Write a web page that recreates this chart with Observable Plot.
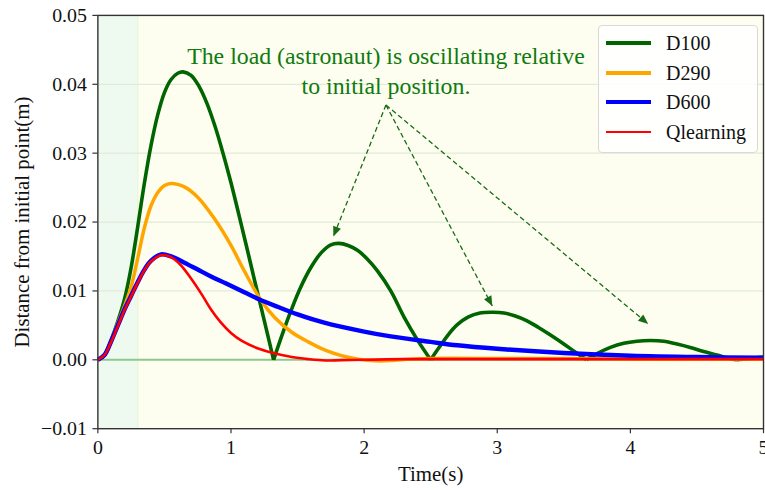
<!DOCTYPE html>
<html>
<head>
<meta charset="utf-8">
<script src="https://cdn.jsdelivr.net/npm/d3@7"></script>
<script src="https://cdn.jsdelivr.net/npm/@observablehq/plot@0.6"></script>
<style>
  html, body { margin: 0; padding: 0; overflow: hidden; background: #ffffff; }
  #wrap { position: relative; width: 765px; height: 490px; overflow: hidden; }
  #legend {
    position: absolute; left: 598px; top: 25px; width: 158px; height: 126px;
    background: rgba(255,255,255,0.85); border: 1px solid #d9d9d9; border-radius: 4px;
    font-family: 'Liberation Serif', 'DejaVu Serif', serif; font-size: 20px; color: #111;
  }
  .row { position: absolute; left: 0; height: 24px; width: 100%; }
  .swatch { position: absolute; left: 7px; width: 45px; top: 50%; }
  .name { position: absolute; left: 67px; top: 50%; transform: translateY(-52%); line-height: 1; }
</style>
</head>
<body>
<div id="wrap"></div>
<script>
// Displacement of the load from its initial point, sampled as [time (s), distance (m)]
const seriesNames = ["D100", "D290", "D600", "Qlearning"];
const seriesColors = ["#006400", "#ffa500", "#0000ff", "#ff0000"];
const seriesWidths = [3.6, 3.5, 4.5, 2.6];

const d100 = [
  [0, 0], [0.05, 0.0007], [0.1, 0.0029], [0.15, 0.0056], [0.2, 0.0088], [0.25, 0.0134],
  [0.3, 0.0194], [0.35, 0.0257], [0.4, 0.0312], [0.45, 0.0356], [0.5, 0.0388], [0.55, 0.0407],
  [0.6, 0.0416], [0.64, 0.0418], [0.7, 0.0413], [0.76, 0.0397], [0.82, 0.0372], [0.88, 0.0339],
  [0.94, 0.0300], [1.0, 0.0257], [1.06, 0.0210], [1.12, 0.0162], [1.18, 0.0113], [1.25, 0.0057],
  [1.32, 0],
  [1.38, 0.0034], [1.45, 0.0071], [1.52, 0.0104], [1.6, 0.0134], [1.68, 0.0156], [1.75, 0.0167],
  [1.81, 0.0169], [1.88, 0.0166], [1.95, 0.0159], [2.02, 0.0147], [2.1, 0.0129], [2.2, 0.0100],
  [2.3, 0.0062], [2.4, 0.0029], [2.5, 0],
  [2.56, 0.0017], [2.63, 0.0036], [2.7, 0.0051], [2.78, 0.0062], [2.87, 0.0068], [2.97, 0.0069],
  [3.05, 0.0068], [3.13, 0.0064], [3.22, 0.0057], [3.31, 0.0047], [3.4, 0.0036], [3.5, 0.0023],
  [3.58, 0.0012], [3.67, 0],
  [3.75, 0.0009], [3.85, 0.0018], [3.95, 0.0024], [4.05, 0.0027], [4.15, 0.0028], [4.25, 0.0027],
  [4.35, 0.0023], [4.45, 0.0018], [4.55, 0.0012], [4.65, 0.0007], [4.74, 0.0002], [4.8, 0],
  [4.9, 0.0002], [5.0, 0.0004]
];

const d290 = [
  [0, 0], [0.05, 0.0007], [0.1, 0.0028], [0.15, 0.0053], [0.2, 0.0078], [0.25, 0.0106],
  [0.3, 0.0148], [0.35, 0.0192], [0.4, 0.0224], [0.45, 0.0243], [0.5, 0.0253], [0.55, 0.0256],
  [0.65, 0.0251], [0.75, 0.0236], [0.875, 0.0205], [1.0, 0.0166], [1.1, 0.0129], [1.22, 0.0088],
  [1.33, 0.0061], [1.457, 0.0040], [1.58, 0.0026], [1.707, 0.0014], [1.83, 0.0006],
  [1.955, 0.0001], [2.08, -0.00015], [2.2, -0.00012], [2.35, 0.0001], [2.5, 0.0002],
  [3.0, 0.0002], [3.5, 0.0002], [4.0, 0.0001], [4.5, 0.0001], [5.0, 0.0001]
];

const d600 = [
  [0, 0], [0.05, 0.0007], [0.1, 0.0027], [0.15, 0.0050], [0.2, 0.0073], [0.25, 0.0093],
  [0.3, 0.0113], [0.35, 0.0131], [0.4, 0.0144], [0.475, 0.0153], [0.55, 0.0150], [0.65, 0.0141],
  [0.75, 0.0131], [0.85, 0.0121], [0.96, 0.0111], [1.1, 0.0098], [1.21, 0.0088], [1.35, 0.0077],
  [1.5, 0.0066], [1.7, 0.0054], [2.0, 0.0041], [2.2, 0.0034], [2.5, 0.0026], [2.7, 0.0021],
  [3.0, 0.0016], [3.5, 0.0010], [4.0, 0.0006], [4.5, 0.0004], [5.0, 0.0003]
];

const qlearning = [
  [0, 0], [0.05, 0.0007], [0.1, 0.0026], [0.15, 0.0049], [0.2, 0.0072], [0.25, 0.0092],
  [0.3, 0.0112], [0.35, 0.0130], [0.4, 0.0143], [0.48, 0.0152], [0.55, 0.0149], [0.62, 0.0138],
  [0.7, 0.0118], [0.78, 0.0095], [0.85, 0.0073], [0.92, 0.0055], [1.0, 0.0039], [1.085, 0.0027],
  [1.21, 0.0016], [1.33, 0.0009], [1.457, 0.0004], [1.58, 0.0001], [1.707, -0.0001],
  [1.83, -0.00005], [2.0, 0], [2.3, 0.0001], [3.0, 0.0001], [4.0, 0.0001], [5.0, 0.0001]
];

// Shaded phases of the motion (seconds)
const phaseBounds = [0, 0.3, 5];
const phaseFills = ["#eefaf0", "#fefef0"];

// Axis ticks
const xTicks = [0, 1, 2, 3, 4, 5];
const yTicks = [-0.01, 0, 0.01, 0.02, 0.03, 0.04, 0.05];
const gridTicks = [0.01, 0.02, 0.03, 0.04];

const xLabel = "Time(s)";
const yLabel = "Distance from initial point(m)";

// Note and the peaks it points to
const note = { t: 2.164, v: 0.0421, text: "The load (astronaut) is oscillating relative\nto initial position." };
const noteOrigin = { t: 2.164, v: 0.0370 };
const notePeaks = [
  { t: 1.769, v: 0.0179 },
  { t: 2.963, v: 0.0078 },
  { t: 4.134, v: 0.0052 }
];

const serif = "'Liberation Serif', 'DejaVu Serif', serif";

// Split a series into humps wherever it touches zero, so the cusps stay sharp.
function withSegments(points) {
  let seg = 0;
  const rows = [];
  points.forEach(([t, v], i) => {
    rows.push({ t, v, seg });
    if (v === 0 && i > 0 && i < points.length - 1) {
      seg += 1;
      rows.push({ t, v, seg });
    }
  });
  return rows;
}

const allSeries = [d100, d290, d600, qlearning];

// Filled triangular arrow head
function filledHead(color) {
  const ns = "http://www.w3.org/2000/svg";
  const m = document.createElementNS(ns, "marker");
  m.setAttribute("viewBox", "-11 -6 12 12");
  m.setAttribute("markerWidth", 12);
  m.setAttribute("markerHeight", 12);
  m.setAttribute("markerUnits", "userSpaceOnUse");
  m.setAttribute("orient", "auto");
  m.setAttribute("stroke-dasharray", "none");
  const p = document.createElementNS(ns, "path");
  p.setAttribute("d", "M-10,-4.2L0,0L-10,4.2Z");
  p.setAttribute("fill", color);
  p.setAttribute("stroke", "none");
  p.setAttribute("stroke-dasharray", "none");
  m.appendChild(p);
  return m;
}

const lineMarks = allSeries.map((s, k) =>
  Plot.line(withSegments(s), {
    x: "t", y: "v", z: "seg",
    stroke: seriesColors[k], strokeWidth: seriesWidths[k],
    curve: "catmull-rom", strokeLinejoin: "round", strokeLinecap: "butt"
  })
);

const phases = phaseFills.map((fill, i) => ({ start: phaseBounds[i], end: phaseBounds[i + 1], fill }));

const chart = Plot.plot({
  width: 770,
  height: 490,
  marginLeft: 98,
  marginRight: 2,
  marginTop: 15,
  marginBottom: 59,
  style: { fontFamily: serif, fontSize: "20px", background: "#ffffff", color: "#111" },
  x: { domain: [0, 5] },
  y: { domain: [-0.01, 0.05] },
  marks: [
    Plot.rect([phases[0]], { x1: "start", x2: "end", fill: phases[0].fill }),
    Plot.rect([phases[1]], { x1: "start", x2: "end", fill: phases[1].fill }),
    Plot.ruleX([phaseBounds[1]], { stroke: "#e4f3cf", strokeWidth: 1 }),
    Plot.ruleY(gridTicks, { stroke: "#e2ead9", strokeWidth: 1.2 }),
    Plot.ruleY([0], { stroke: "#8dc98d", strokeWidth: 2 }),
    ...lineMarks,
    Plot.link(notePeaks, {
      x1: () => noteOrigin.t, y1: () => noteOrigin.v, x2: "t", y2: "v",
      stroke: "#176b17", strokeWidth: 1.3, strokeDasharray: "5,3",
      markerEnd: filledHead
    }),
    Plot.text([note], {
      x: "t", y: "v", text: "text", fill: "#0f7a0f",
      fontSize: 24, lineHeight: 1.25, textAnchor: "middle"
    }),
    Plot.frame({ stroke: "#333", strokeWidth: 1.4 }),
    Plot.axisY(yTicks, {
      tickFormat: d3.format(".2f"), tickSize: 5, tickPadding: 6, label: null,
      fontSize: 20, stroke: "#333", strokeWidth: 1.2
    }),
    Plot.axisX(xTicks, {
      tickFormat: d3.format("d"), tickSize: 5, tickPadding: 6, label: null,
      fontSize: 20, stroke: "#333", strokeWidth: 1.2
    }),
    Plot.text([xLabel], { frameAnchor: "bottom", dy: 53, fontSize: 21, fill: "#111" }),
    Plot.text([yLabel], {
      frameAnchor: "left", rotate: -90, dx: -76, dy: 0, fontSize: 21, fill: "#111",
      textAnchor: "middle", lineAnchor: "middle"
    })
  ]
});

const wrap = document.getElementById("wrap");
wrap.appendChild(chart);

// Legend box in the upper right of the plotting area
const legend = document.createElement("div");
legend.id = "legend";
const rowTops = [5, 35, 64, 94];
seriesNames.forEach((name, k) => {
  const row = document.createElement("div");
  row.className = "row";
  row.style.top = rowTops[k] + "px";
  const sw = document.createElement("div");
  sw.className = "swatch";
  sw.style.height = seriesWidths[k] * 0.9 + "px";
  sw.style.marginTop = -(seriesWidths[k] * 0.45) + "px";
  sw.style.background = seriesColors[k];
  const label = document.createElement("div");
  label.className = "name";
  label.textContent = name;
  row.appendChild(sw);
  row.appendChild(label);
  legend.appendChild(row);
});
wrap.appendChild(legend);
</script>
</body>
</html>
